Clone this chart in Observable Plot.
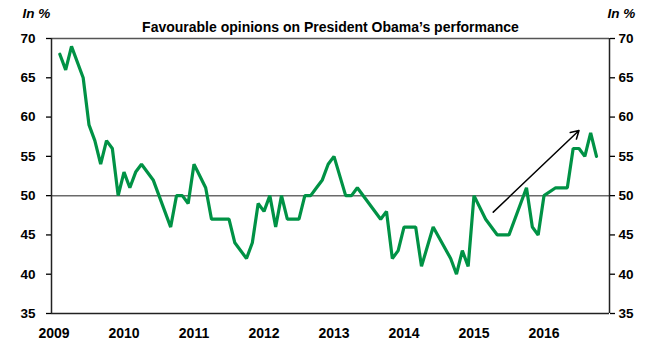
<!DOCTYPE html>
<html>
<head>
<meta charset="utf-8">
<script src="https://cdn.jsdelivr.net/npm/d3@7"></script>
<script src="https://cdn.jsdelivr.net/npm/@observablehq/plot@0.6"></script>
<style>
  html, body { margin: 0; padding: 0; background: #fff; }
  #chart svg { display: block; }
  #chart svg text { font-weight: bold; }
</style>
</head>
<body>
<div id="chart"></div>
<script>
// Monthly poll readings (only the visible vertices of the line)
const months = [
  "2009-02","2009-03","2009-04","2009-06","2009-07","2009-08","2009-09","2009-10","2009-11","2009-12",
  "2010-01","2010-02","2010-03","2010-04","2010-06","2010-07","2010-09","2010-10","2010-11","2010-12",
  "2011-01","2011-03","2011-04","2011-07","2011-08","2011-10","2011-11","2011-12",
  "2012-01","2012-02","2012-03","2012-04","2012-05","2012-07","2012-08","2012-09","2012-10","2012-11","2012-12",
  "2013-01","2013-03","2013-04","2013-05","2013-09","2013-10","2013-11","2013-12",
  "2014-01","2014-03","2014-04","2014-06","2014-09","2014-10","2014-11","2014-12",
  "2015-01","2015-03","2015-05","2015-07","2015-10","2015-11","2015-12",
  "2016-01","2016-03","2016-05","2016-06","2016-07","2016-08","2016-09","2016-10"
];
const favourable = [
  68,66,69,65,59,57,54,57,56,50,
  53,51,53,54,52,50,46,50,50,49,
  54,51,47,47,44,42,44,49,
  48,50,46,50,47,47,50,50,51,52,54,
  55,50,50,51,47,48,42,43,
  46,46,41,46,42,40,43,41,
  50,47,45,45,51,46,45,
  50,51,51,56,56,55,58,55
];
const yearLabels = [2009, 2010, 2011, 2012, 2013, 2014, 2015, 2016];
const yTicks = [35, 40, 45, 50, 55, 60, 65, 70];
const referenceLevel = [50];
// Trend arrow (months since Jan 2009, value)
const arrowMonths = [75.3, 90.0];
const arrowValues = [47.9, 58.3];

const titleText = "Favourable opinions on President Obama\u2019s performance";
const unitText = "In %";

const monthIndex = s => { const [y, m] = s.split("-").map(Number); return (y - 2009) * 12 + (m - 1); };
const data = months.map((s, i) => ({m: monthIndex(s), v: favourable[i]}));
const xDomain = [-0.43, 95.23];
const yDomain = [35, 70];

const chart = Plot.plot({
  width: 650,
  height: 345,
  marginLeft: 51,
  marginRight: 41,
  marginTop: 38,
  marginBottom: 32,
  style: {fontFamily: "'Liberation Sans', Arial, sans-serif", fontSize: "13.5px", fontWeight: "bold", color: "#000", background: "#fff"},
  x: {domain: xDomain, label: null},
  y: {domain: yDomain, label: null},
  marks: [
    Plot.ruleY(referenceLevel, {stroke: "#6a6a6a", strokeWidth: 1.5}),
    Plot.ruleY([yDomain[1]], {stroke: "#555", strokeWidth: 1.5}),
    Plot.ruleY([yDomain[0]], {stroke: "#222", strokeWidth: 1.5}),
    Plot.ruleX(xDomain, {stroke: "#222", strokeWidth: 1.5}),
    Plot.axisY({anchor: "left", ticks: yTicks, tickSize: 5, tickPadding: 11, label: null, strokeWidth: 1.3, fontWeight: "bold", fontSize: 13.5}),
    Plot.axisY({anchor: "right", ticks: yTicks, tickSize: 5, tickPadding: 4, label: null, strokeWidth: 1.3, fontWeight: "bold", fontSize: 13.5}),
    Plot.axisX({ticks: yearLabels.map(y => (y - 2009) * 12), tickFormat: d => String(2009 + d / 12), tickSize: 0, tickPadding: 15, label: null, fontWeight: "bold", fontSize: 14}),
    Plot.line(data, {x: "m", y: "v", stroke: "#009245", strokeWidth: 3.2, strokeLinejoin: "miter"}),
    Plot.arrow([0], {x1: () => arrowMonths[0], y1: () => arrowValues[0], x2: () => arrowMonths[1], y2: () => arrowValues[1], stroke: "#000", strokeWidth: 1.5, headLength: 9}),
    Plot.text([titleText], {text: d => d, frameAnchor: "top", dy: -6.5, lineAnchor: "bottom", fontSize: 14, fontWeight: "bold"}),
    Plot.text([unitText], {text: d => d, frameAnchor: "top-left", dx: -29, dy: -20.5, textAnchor: "start", lineAnchor: "bottom", fontStyle: "italic", fontWeight: "bold", fontSize: 13.5}),
    Plot.text([unitText], {text: d => d, frameAnchor: "top-right", dx: -2, dy: -20.5, textAnchor: "start", lineAnchor: "bottom", fontStyle: "italic", fontWeight: "bold", fontSize: 13.5})
  ]
});
document.getElementById("chart").appendChild(chart);
</script>
</body>
</html>
